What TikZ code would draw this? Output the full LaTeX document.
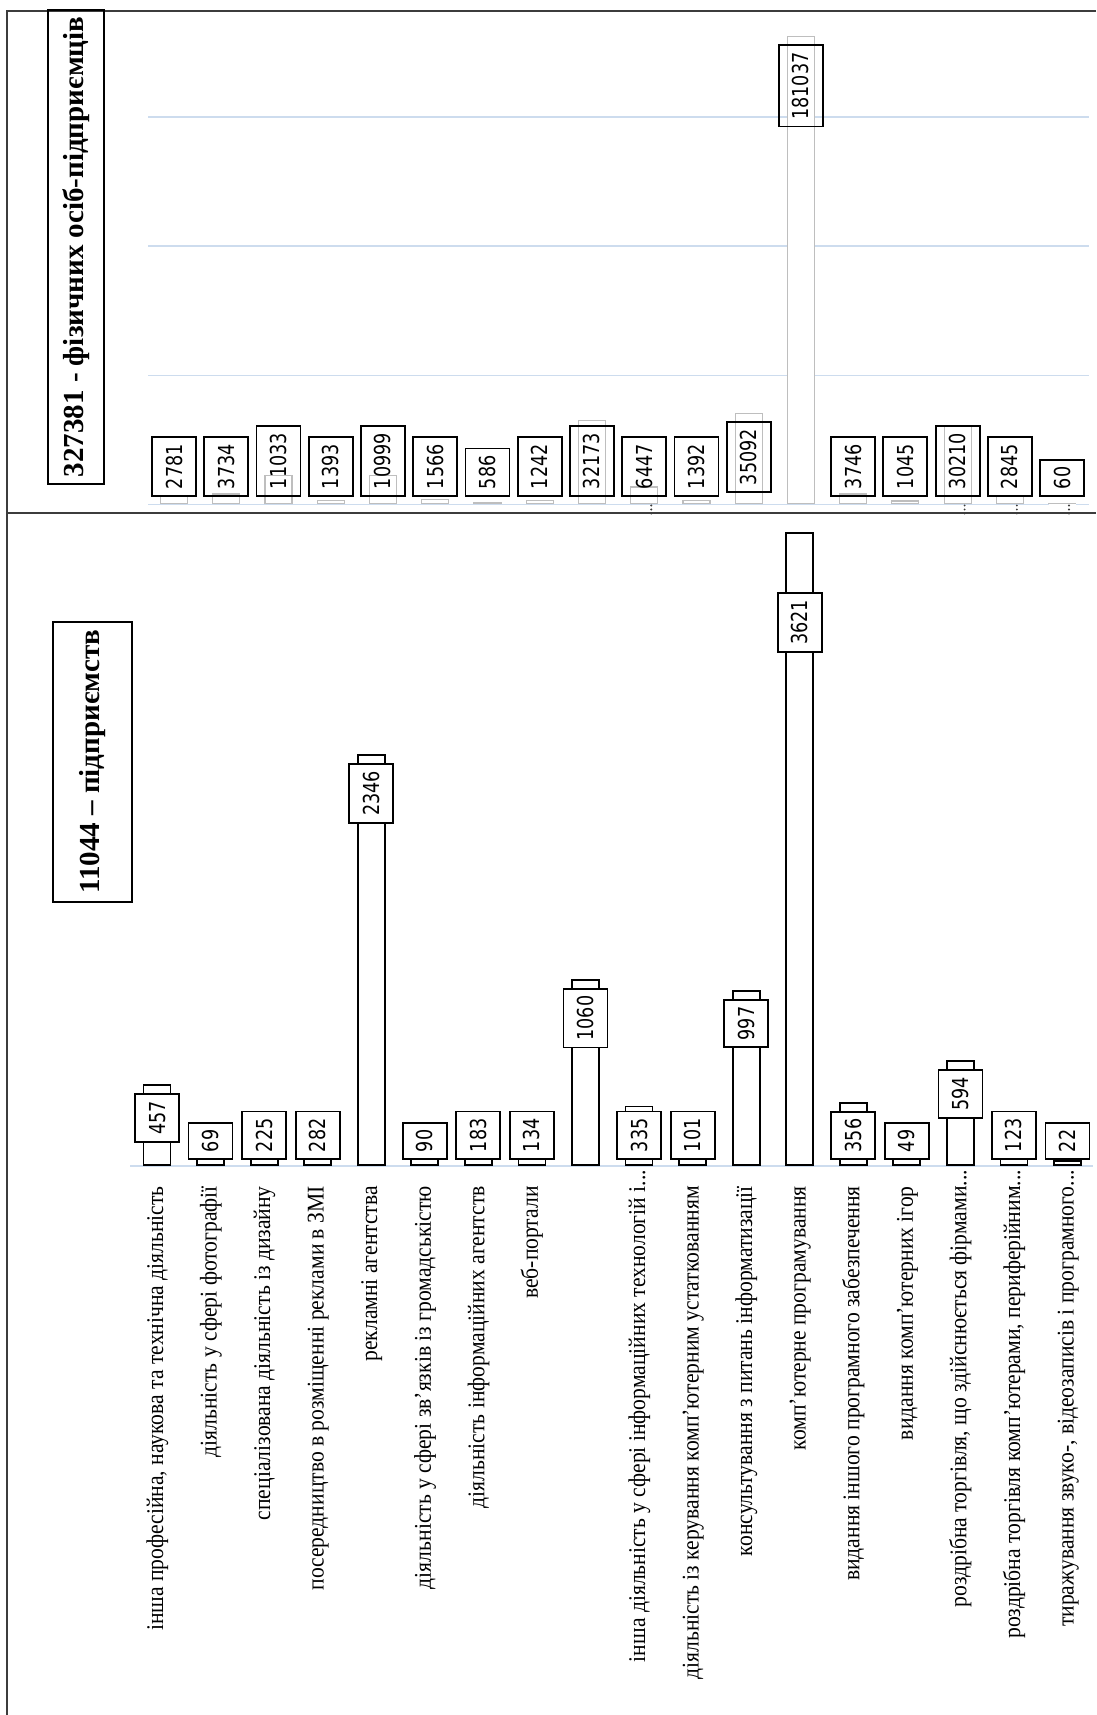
\documentclass[tikz,border=0pt]{standalone}
\usepackage{fontspec}
\setmainfont{Liberation Serif}
\newfontfamily\catfont[FakeStretch=0.9]{Liberation Serif}
\newfontfamily\numfont[FakeStretch=0.8]{DejaVu Sans}
\newfontfamily\titfont{Liberation Serif}
\definecolor{gridblue}{RGB}{205,220,238}
\definecolor{bargray}{RGB}{190,190,190}
\definecolor{framegray}{RGB}{60,60,60}
\begin{document}
\begin{tikzpicture}[x=1pt,y=-1pt,
  frameline/.style={draw=framegray,line width=2.2pt},
  gridln/.style={draw=gridblue,line width=1.5pt},
  ubar/.style={draw=bargray,fill=white,line width=1.2pt,minimum width=27pt,inner sep=0pt,anchor=south},
  lbar/.style={draw=black,fill=white,line width=1.8pt,minimum width=27pt,inner sep=0pt,anchor=south},
  vbox/.style={draw=black,line width=1.8pt,rotate=90,minimum height=44pt,inner xsep=7pt,inner ysep=0pt,
    font=\numfont\fontsize{22}{22}\selectfont,text height=16pt,text depth=0pt},
  catlab/.style={rotate=90,anchor=east,inner sep=0pt,font=\catfont\fontsize{24}{24}\selectfont,
    text height=17pt,text depth=5pt},
  titbox/.style={draw=black,line width=1.6pt,rotate=90,inner sep=0pt,
    font=\titfont\bfseries\fontsize{29}{29}\selectfont},
  tdot/.style={fill=framegray,draw=none,circle,inner sep=0pt,minimum size=2.2pt}
]
\useasboundingbox (0,0) rectangle (1096,1715);
\fill[white] (0,0) rectangle (1096,1715);

% frame
\draw[frameline] (1096,11) -- (7,11) -- (7,1715);
\draw[frameline] (7,513) -- (1096,513);

% ---------- upper panel ----------
\foreach \g in {117.15,246.2,375.25,504.3}
  \draw[gridln] (148,\g) -- (1089,\g);

\foreach \i/\h in {1/7.18,2/9.64,3/28.48,4/3.60,5/28.39,6/4.04,7/1.51,8/3.21,9/83.04,
  10/16.64,11/3.59,12/90.57,13/467.26,14/9.67,15/2.70,16/77.97,17/7.34,18/0.15}{
  \pgfmathsetmacro\c{174+52.24*(\i-1)}
  \node[ubar,minimum height=\h pt] (ub\i) at (\c,504.3) {};
}
\foreach \i/\v in {1/2781,2/3734,3/11033,4/1393,5/10999,6/1566,7/586,8/1242,9/32173,
  10/6447,11/1392,14/3746,15/1045,16/30210,17/2845,18/60}{
  \pgfmathsetmacro\c{174+52.24*(\i-1)}
  \node[vbox,anchor=west] (uv\i) at (\c,497) {\v};
}
\node[vbox,anchor=east] (uv12) at (748.6,421.2) {35092};
\node[vbox,anchor=east] (uv13) at (800.9,44.5) {181037};
\foreach \i in {10,16,17,18}{
  \pgfmathsetmacro\c{174+52.24*(\i-1)+7}
  \node[tdot] (ud\i a) at (\c,505.5) {};
  \node[tdot] (ud\i b) at (\c,509.5) {};
  \node[tdot] (ud\i c) at (\c,513.5) {};
}

\node[titbox,minimum width=474pt,minimum height=56pt] (title1) at (76,247)
  {327381 - фізичних осіб-підприємців};

% ---------- lower panel ----------
\draw[gridln] (130,1166) -- (1093,1166);

\foreach \i/\v in {1/457,2/69,3/225,4/282,5/2346,6/90,7/183,8/134,9/1060,
  10/335,11/101,12/997,13/3621,14/356,15/49,16/594,17/123,18/22}{
  \pgfmathsetmacro\c{157+53.56*(\i-1)}
  \pgfmathsetmacro\h{0.17467*\v}
  \node[lbar,minimum height=\h pt] (lb\i) at (\c,1166) {};
}
\foreach \i/\v in {1/457,5/2346,9/1060,12/997,14/356,16/594}{
  \pgfmathsetmacro\c{157+53.56*(\i-1)}
  \pgfmathsetmacro\t{1166-0.17467*\v+7}
  \node[vbox,fill=white,anchor=east] (lv\i) at (\c,\t) {\v};
}
\foreach \i/\v in {2/69,3/225,4/282,6/90,7/183,8/134,10/335,11/101,15/49,17/123,18/22}{
  \pgfmathsetmacro\c{157+53.56*(\i-1)}
  \node[vbox,fill=white,anchor=west] (lv\i) at (\c,1160) {\v};
}
\node[vbox,fill=white,anchor=east] (lv13) at (799.7,592) {3621};

\node[titbox,minimum width=280pt,minimum height=79pt] (title2) at (92.2,761.7)
  {11044 – підприємств};

% category labels
\node[catlab] (c1)  at (157.0,1186) {інша професійна, наукова та технічна діяльність};
\node[catlab] (c2)  at (210.6,1186) {діяльність у сфері фотографії};
\node[catlab] (c3)  at (264.1,1186) {спеціалізована діяльність із дизайну};
\node[catlab] (c4)  at (317.7,1186) {посередництво в розміщенні реклами в ЗМІ};
\node[catlab] (c5)  at (371.2,1186) {рекламні агентства};
\node[catlab] (c6)  at (424.8,1186) {діяльність у сфері зв’язків із громадськістю};
\node[catlab] (c7)  at (478.4,1186) {діяльність інформаційних агентств};
\node[catlab] (c8)  at (531.9,1186) {веб-портали};
\node[catlab] (c10) at (639.0,1186) {інша діяльність у сфері інформаційних технологій і\rlap{...}};
\node[catlab] (c11) at (692.6,1186) {діяльність із керування комп’ютерним устаткованням};
\node[catlab] (c12) at (746.2,1186) {консультування з питань інформатизації};
\node[catlab] (c13) at (799.7,1186) {комп’ютерне програмування};
\node[catlab] (c14) at (853.3,1186) {видання іншого програмного забезпечення};
\node[catlab] (c15) at (906.8,1186) {видання комп’ютерних ігор};
\node[catlab] (c16) at (960.4,1186) {роздрібна торгівля, що здійснюється фірмами\rlap{...}};
\node[catlab] (c17) at (1014.0,1186) {роздрібна торгівля комп’ютерами, периферійним\rlap{...}};
\node[catlab] (c18) at (1067.5,1186) {тиражування звуко-, відеозаписів і програмного\rlap{...}};
\end{tikzpicture}
\end{document}
